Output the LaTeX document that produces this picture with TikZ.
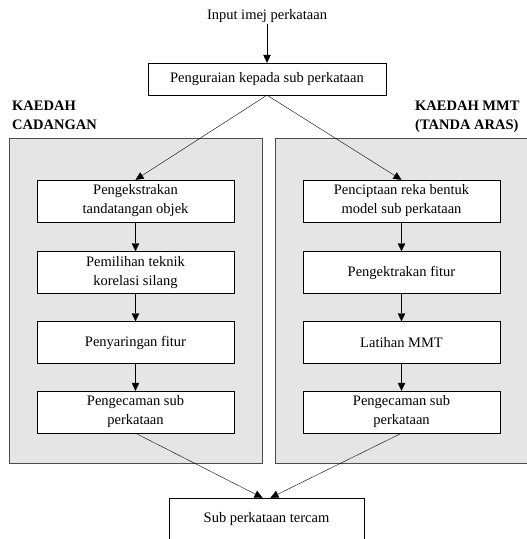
\documentclass[tikz,border=0pt]{standalone}
\usepackage{fontspec}
\setmainfont{Liberation Serif}
\usetikzlibrary{arrows.meta}

\begin{document}
\begin{tikzpicture}[x=1pt, y=-1pt, >={Triangle[length=8pt,width=7.5pt]},
    font=\fontsize{14.5}{19}\selectfont,
    box/.style={draw, fill=white, minimum width=197pt, minimum height=42pt, align=center, inner sep=2pt},
    panel/.style={draw=black!70, line width=0.9pt, fill=black!10},
    heading/.style={anchor=north west, align=left, inner sep=0pt, font=\fontsize{14.5}{19}\selectfont\bfseries}]
    \useasboundingbox (0,0) rectangle (527,539);
    \clip (0,0) rectangle (527,539);

    % Define columns and rows of the method boxes
    \def\ColL{135.5};
    \def\ColR{401.5};
    \def\RowA{201};
    \def\RowB{272.5};
    \def\RowC{342.5};
    \def\RowD{412};

    % Draw the two method panels
    \draw[panel] (9,138) rectangle (262,463);
    \draw[panel] (275,138) rectangle (540,463);
    \node[heading] (hleft) at (12,101) {KAEDAH\\CADANGAN};
    \node[heading] (hright) at (415,101) {KAEDAH MMT\\(TANDA ARAS)};

    % Draw input and splitting step
    \node[inner sep=1pt] (input) at (267,16) {Input imej perkataan};
    \node[draw, fill=white, minimum width=238pt, minimum height=32pt] (split) at (267,79) {Penguraian kepada sub perkataan};
    \draw[->] (input) -- (split);

    % Draw proposed method
    \node[box] (l1) at (\ColL,\RowA) {Pengekstrakan\\tandatangan objek};
    \node[box] (l2) at (\ColL,\RowB) {Pemilihan teknik\\korelasi silang};
    \node[box] (l3) at (\ColL,\RowC) {Penyaringan fitur};
    \node[box] (l4) at (\ColL,\RowD) {Pengecaman sub\\perkataan};

    % Draw MMT method
    \node[box] (r1) at (\ColR,\RowA) {Penciptaan reka bentuk\\model sub perkataan};
    \node[box] (r2) at (\ColR,\RowB) {Pengektrakan fitur};
    \node[box] (r3) at (\ColR,\RowC) {Latihan MMT};
    \node[box] (r4) at (\ColR,\RowD) {Pengecaman sub\\perkataan};

    % Draw result
    \node[box, minimum width=195pt] (result) at (266.5,519) {Sub perkataan tercam};

    % Draw connections
    \draw[->] (split.south) -- (l1.north);
    \draw[->] (split.south) -- (r1.north);
    \foreach \a/\b in {1/2, 2/3, 3/4} {
        \draw[->] (l\a) -- (l\b);
        \draw[->] (r\a) -- (r\b);
    }
    \draw[->] (l4.south) -- ([xshift=-4pt]result.north);
    \draw[->] (r4.south) -- ([xshift=4pt]result.north);
\end{tikzpicture}
\end{document}
